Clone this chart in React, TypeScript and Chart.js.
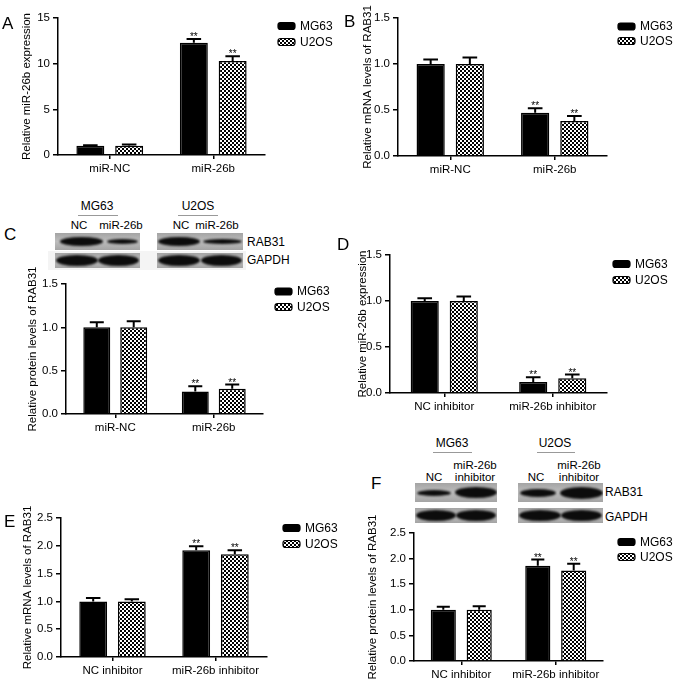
import React, { useEffect, useRef } from 'react';
import { Chart, registerables } from 'chart.js';
Chart.register(...registerables);

const FONT = '"Liberation Sans", Arial, Helvetica, sans-serif';
const seriesLabels = ['MG63', 'U2OS'];

// Panel A
const catsA = ['miR-NC', 'miR-26b'];
const mg63A = [1.0, 12.3];
const u2osA = [1.0, 10.3];
const mg63ErrA = [0.08, 0.4];
const u2osErrA = [0.15, 0.5];
const sigA = [false, true];
const yTicksA = [0, 5, 10, 15];
// Panel B
const catsB = ['miR-NC', 'miR-26b'];
const mg63B = [1.0, 0.47];
const u2osB = [1.0, 0.38];
const mg63ErrB = [0.05, 0.05];
const u2osErrB = [0.07, 0.055];
const sigB = [false, true];
const yTicksB = [0, 0.5, 1.0, 1.5];
// Panel C
const catsC = ['miR-NC', 'miR-26b'];
const mg63C = [1.0, 0.26];
const u2osC = [1.0, 0.29];
const mg63ErrC = [0.06, 0.06];
const u2osErrC = [0.07, 0.05];
const sigC = [false, true];
const yTicksC = [0, 0.5, 1.0, 1.5];
// Panel D
const catsD = ['NC inhibitor', 'miR-26b inhibitor'];
const mg63D = [1.0, 0.12];
const u2osD = [1.0, 0.16];
const mg63ErrD = [0.03, 0.05];
const u2osErrD = [0.05, 0.04];
const sigD = [false, true];
const yTicksD = [0, 0.5, 1.0, 1.5];
// Panel E
const catsE = ['NC inhibitor', 'miR-26b inhibitor'];
const mg63E = [1.0, 1.92];
const u2osE = [1.0, 1.85];
const mg63ErrE = [0.06, 0.07];
const u2osErrE = [0.04, 0.07];
const sigE = [false, true];
const yTicksE = [0, 0.5, 1.0, 1.5, 2.0, 2.5];
// Panel F
const catsF = ['NC inhibitor', 'miR-26b inhibitor'];
const mg63F = [1.0, 1.86];
const u2osF = [1.0, 1.77];
const mg63ErrF = [0.06, 0.12];
const u2osErrF = [0.07, 0.13];
const sigF = [false, true];
const yTicksF = [0, 0.5, 1.0, 1.5, 2.0, 2.5];

function makePattern(): CanvasPattern | string {
  const t = document.createElement('canvas');
  t.width = 4; t.height = 4;
  const c = t.getContext('2d');
  if (!c) return '#777';
  c.fillStyle = '#000'; c.fillRect(0, 0, 4, 4);
  c.fillStyle = '#fff'; c.fillRect(0, 0, 2, 2); c.fillRect(2, 2, 2, 2);
  return c.createPattern(t, 'repeat') || '#777';
}

const errPlugin = {
  id: 'errBars',
  afterDatasetsDraw(chart: any, _args: any, opts: any) {
    const ctx = chart.ctx;
    const ys = chart.scales.y;
    chart.data.datasets.forEach((ds: any, i: number) => {
      const meta = chart.getDatasetMeta(i);
      const errs = opts.errs[i];
      meta.data.forEach((el: any, j: number) => {
        const v = ds.data[j];
        const top = ys.getPixelForValue(v + errs[j]);
        const x = el.x;
        const w = el.width;
        ctx.save();
        ctx.strokeStyle = '#000';
        ctx.lineWidth = 2;
        ctx.beginPath();
        ctx.moveTo(x, el.y);
        ctx.lineTo(x, top);
        ctx.moveTo(x - w * 0.26, top);
        ctx.lineTo(x + w * 0.26, top);
        ctx.stroke();
        if (opts.sig[j]) {
          ctx.fillStyle = '#000';
          ctx.font = `10px ${FONT}`;
          ctx.textAlign = 'center';
          ctx.textBaseline = 'alphabetic';
          ctx.fillText('**', x, top + 1);
        }
        ctx.restore();
      });
    });
  },
};

const legendPlugin = {
  id: 'customLegend',
  afterDraw(chart: any, _args: any, opts: any) {
    const ctx = chart.ctx;
    chart.data.datasets.forEach((ds: any, i: number) => {
      const bx = opts.x;
      const by = opts.ys[i];
      ctx.save();
      ctx.fillStyle = ds.backgroundColor;
      ctx.strokeStyle = '#000';
      ctx.lineWidth = 1.2;
      ctx.beginPath();
      ctx.roundRect(bx, by - 3.5, 17, 7, 2.5);
      ctx.fill();
      ctx.stroke();
      ctx.fillStyle = '#000';
      ctx.font = `12px ${FONT}`;
      ctx.textBaseline = 'middle';
      ctx.textAlign = 'left';
      ctx.fillText(ds.label, bx + 22, by + 0.5);
      ctx.restore();
    });
  },
};

type PanelProps = {
  canvas: number[];
  area: number[];
  titleX: number;
  title: string;
  cats: string[];
  mg: number[];
  u2: number[];
  mgErr: number[];
  u2Err: number[];
  sig: boolean[];
  yTicks: number[];
  dec: number;
  legend: { x: number; ys: number[] };
  catPct: number;
  barPct: number;
};

function BarPanel(p: PanelProps) {
  const ref = useRef<HTMLCanvasElement>(null);
  const [cx, cy, cw, ch] = p.canvas;
  useEffect(() => {
    const c = ref.current;
    if (!c) return;
    const [al, at, ar, ab] = p.area;
    const titleSize = 11.5;
    const pL = p.titleX - cx - (titleSize * 1.2) / 2;
    const yW = al - cx - pL;
    const pR = cx + cw - ar;
    const pT = at - cy;
    const xH = cy + ch - ab;
    const pat = makePattern();
    const chart = new Chart(c, {
      type: 'bar',
      data: {
        labels: p.cats,
        datasets: [
          {
            label: seriesLabels[0], data: p.mg, backgroundColor: '#000', borderColor: '#000',
            borderWidth: 1.5, categoryPercentage: p.catPct, barPercentage: p.barPct,
          },
          {
            label: seriesLabels[1], data: p.u2, backgroundColor: pat as any, borderColor: '#000',
            borderWidth: 1.5, categoryPercentage: p.catPct, barPercentage: p.barPct,
          },
        ],
      },
      options: {
        responsive: false,
        animation: false,
        devicePixelRatio: 1,
        layout: { padding: { left: pL, top: pT, right: pR, bottom: 0 } },
        plugins: {
          legend: { display: false },
          tooltip: { enabled: false },
          errBars: { errs: [p.mgErr, p.u2Err], sig: p.sig },
          customLegend: { x: p.legend.x - cx, ys: p.legend.ys.map((v) => v - cy) },
        } as any,
        scales: {
          x: {
            grid: { display: true, offset: false, drawOnChartArea: false, drawTicks: true, tickLength: 4, color: '#000', lineWidth: 1.5 },
            border: { display: true, color: '#000', width: 1.5 },
            ticks: { color: '#000', font: { family: FONT, size: 11.5 }, padding: 3, maxRotation: 0, autoSkip: false },
            afterFit: (s: any) => { s.height = xH; },
          },
          y: {
            min: p.yTicks[0],
            max: p.yTicks[p.yTicks.length - 1],
            ticks: {
              stepSize: p.yTicks[1] - p.yTicks[0],
              color: '#000',
              font: { family: FONT, size: 11.5 },
              padding: 3,
              callback: (v: any) => Number(v).toFixed(p.dec),
            },
            grid: { drawOnChartArea: false, drawTicks: true, tickLength: 5, color: '#000', lineWidth: 1.5 },
            border: { display: true, color: '#000', width: 1.5 },
            title: { display: true, text: p.title, color: '#000', font: { family: FONT, size: titleSize }, padding: 0 },
            afterFit: (s: any) => { s.width = yW; },
          },
        } as any,
      },
      plugins: [errPlugin, legendPlugin],
    });
    return () => chart.destroy();
  }, []);
  return (
    <canvas ref={ref} width={cw} height={ch}
      style={{ position: 'absolute', left: cx, top: cy, width: cw, height: ch }} />
  );
}

function Txt(props: { x: number; y: number; size?: number; anchor?: string; children: any }) {
  const a = props.anchor || 'middle';
  return (
    <div style={{
      position: 'absolute', left: props.x, top: props.y,
      transform: a === 'middle' ? 'translate(-50%,-50%)' : 'translate(0,-50%)',
      fontSize: props.size || 12, whiteSpace: 'nowrap', lineHeight: 1, textAlign: 'center',
    }}>{props.children}</div>
  );
}

function Blot(props: { x: number; y: number; w: number; h: number; bands: number[][] }) {
  const { x, y, w, h, bands } = props;
  return (
    <div style={{ position: 'absolute', left: x, top: y, width: w, height: h, background: 'linear-gradient(#a4a4a4,#bdbdbd 50%,#a4a4a4)', overflow: 'hidden' }}>
      {bands.map((b, i) => (
        <div key={i} style={{
          position: 'absolute', left: b[0], top: (h - b[2]) / 2, width: b[1], height: b[2],
          background: '#0c0c0c', borderRadius: '50%', filter: 'blur(1px)',
        }} />
      ))}
    </div>
  );
}

function Line(props: { x1: number; x2: number; y: number }) {
  return <div style={{ position: 'absolute', left: props.x1, top: props.y, width: props.x2 - props.x1, height: 1, background: '#999' }} />;
}

function Letter(props: { x: number; y: number; t: string }) {
  return <div style={{ position: 'absolute', left: props.x, top: props.y, fontSize: 17, lineHeight: 1 }}>{props.t}</div>;
}

export default function App() {
  return (
    <div style={{ position: 'absolute', left: 0, top: 0, width: 677, height: 685, background: '#fff', fontFamily: FONT, color: '#000', overflow: 'hidden' }}>
      {/* Panel C blot (drawn below the canvases) */}
      <Txt x={97} y={206}>MG63</Txt>
      <Line x1={78} x2={118} y={215} />
      <Txt x={198} y={206}>U2OS</Txt>
      <Line x1={178} x2={218} y={215} />
      <Txt x={79} y={226} size={11.5}>NC</Txt>
      <Txt x={121} y={226} size={11.5}>miR-26b</Txt>
      <Txt x={181} y={226} size={11.5}>NC</Txt>
      <Txt x={217} y={226} size={11.5}>miR-26b</Txt>
      <div style={{ position: 'absolute', left: 48, top: 251, width: 198, height: 19, background: '#f4f4f4' }} />
      <Blot x={55} y={233} w={85} h={17} bands={[[5, 43, 9], [52, 31, 5]]} />
      <Blot x={157} y={233} w={86} h={17} bands={[[1, 42, 9], [46, 39, 5]]} />
      <Blot x={55} y={253} w={85} h={15} bands={[[1, 42, 11], [43, 41, 11]]} />
      <Blot x={157} y={253} w={86} h={15} bands={[[1, 42, 11], [44, 41, 11]]} />
      <Txt x={247} y={242} anchor="start">RAB31</Txt>
      <Txt x={247} y={260} anchor="start">GAPDH</Txt>

      {/* Panel F blot */}
      <Txt x={452} y={443}>MG63</Txt>
      <Line x1={433} x2={472} y={452} />
      <Txt x={555} y={443}>U2OS</Txt>
      <Line x1={537} x2={575} y={452} />
      <Txt x={434} y={478} size={11.5}>NC</Txt>
      <Txt x={475} y={466} size={11.5}>miR-26b</Txt>
      <Txt x={475} y={478} size={11.5}>inhibitor</Txt>
      <Txt x={536} y={478} size={11.5}>NC</Txt>
      <Txt x={579} y={466} size={11.5}>miR-26b</Txt>
      <Txt x={579} y={478} size={11.5}>inhibitor</Txt>
      <Blot x={415} y={483} w={82} h={19} bands={[[2, 34, 6], [40, 42, 11]]} />
      <Blot x={518} y={483} w={85} h={19} bands={[[2, 36, 8], [42, 43, 12]]} />
      <Blot x={415} y={508} w={82} h={15} bands={[[1, 40, 11], [41, 40, 11]]} />
      <Blot x={518} y={508} w={85} h={15} bands={[[1, 42, 11], [43, 41, 11]]} />
      <Txt x={605} y={492} anchor="start">RAB31</Txt>
      <Txt x={605} y={517} anchor="start">GAPDH</Txt>

      <BarPanel canvas={[0, -12, 340, 193]} area={[58, 18, 265, 155]} titleX={27} title="Relative miR-26b expression"
        cats={catsA} mg={mg63A} u2={u2osA} mgErr={mg63ErrA} u2Err={u2osErrA} sig={sigA} yTicks={yTicksA} dec={0}
        legend={{ x: 278, ys: [26, 42] }} catPct={0.75} barPct={0.72} />
      <BarPanel canvas={[340, -12, 337, 194]} area={[398, 18, 607, 156]} titleX={368} title="Relative mRNA levels of RAB31"
        cats={catsB} mg={mg63B} u2={u2osB} mgErr={mg63ErrB} u2Err={u2osErrB} sig={sigB} yTicks={yTicksB} dec={1}
        legend={{ x: 618, ys: [26.5, 41] }} catPct={0.75} barPct={0.72} />
      <BarPanel canvas={[0, 254, 340, 186]} area={[66, 284, 263, 414]} titleX={33} title="Relative protein levels of RAB31"
        cats={catsC} mg={mg63C} u2={u2osC} mgErr={mg63ErrC} u2Err={u2osErrC} sig={sigC} yTicks={yTicksC} dec={1}
        legend={{ x: 275, ys: [291.5, 307] }} catPct={0.75} barPct={0.73} />
      <BarPanel canvas={[340, 225, 337, 194]} area={[390, 255, 607, 393]} titleX={363} title="Relative miR-26b expression"
        cats={catsD} mg={mg63D} u2={u2osD} mgErr={mg63ErrD} u2Err={u2osErrD} sig={sigD} yTicks={yTicksD} dec={1}
        legend={{ x: 613, ys: [264, 280] }} catPct={0.72} barPct={0.72} />
      <BarPanel canvas={[0, 488, 340, 195]} area={[61, 518, 267, 657]} titleX={28} title="Relative mRNA levels of RAB31"
        cats={catsE} mg={mg63E} u2={u2osE} mgErr={mg63ErrE} u2Err={u2osErrE} sig={sigE} yTicks={yTicksE} dec={1}
        legend={{ x: 283, ys: [528, 544] }} catPct={0.75} barPct={0.72} />
      <BarPanel canvas={[340, 503, 337, 182]} area={[414, 533, 603, 661]} titleX={373} title="Relative protein levels of RAB31"
        cats={catsF} mg={mg63F} u2={u2osF} mgErr={mg63ErrF} u2Err={u2osErrF} sig={sigF} yTicks={yTicksF} dec={1}
        legend={{ x: 618, ys: [542, 557] }} catPct={0.76} barPct={0.7} />

      <Letter x={2} y={15} t="A" />
      <Letter x={344} y={13} t="B" />
      <Letter x={4} y={226} t="C" />
      <Letter x={337} y={236} t="D" />
      <Letter x={4} y={513} t="E" />
      <Letter x={371} y={475} t="F" />
    </div>
  );
}
